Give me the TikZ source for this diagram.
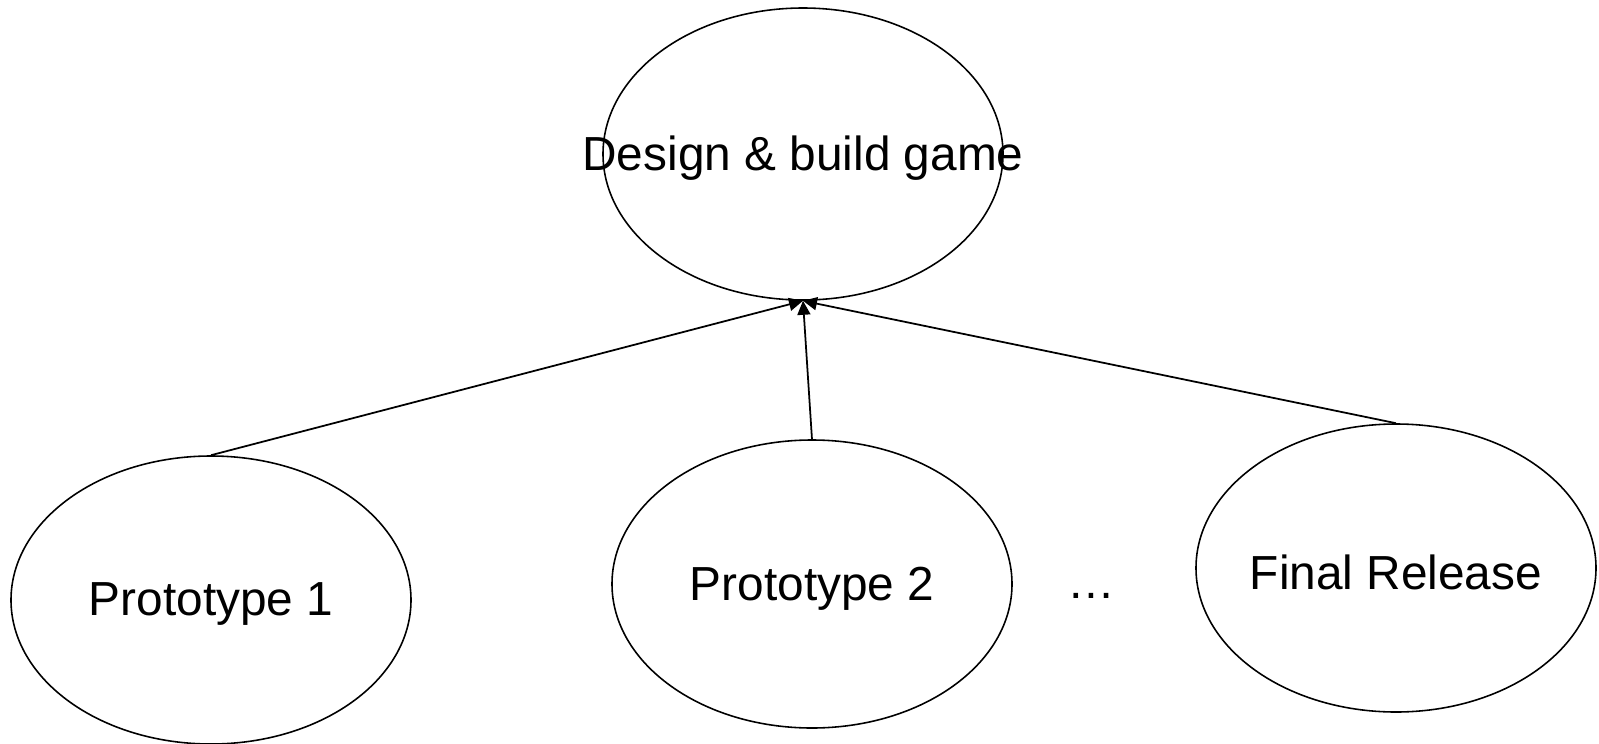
\documentclass[tikz,border=0pt]{standalone}
\usepackage{fontspec}
\setmainfont{Liberation Sans}
\usepackage{tikz}
\usetikzlibrary{shapes,arrows.meta}

\newcommand{\blobtext}[1]{\makebox[0pt]{\raisebox{-2.5pt}[\height][\depth]{#1}}}

\begin{document}
\begin{tikzpicture}[scale=0.2,
  blob/.style={draw=black,line width=0.9pt,ellipse,inner sep=0pt,
    minimum width=8cm,minimum height=5.76cm,font=\fontsize{27.2}{32}\selectfont},
  link/.style={black,line width=1pt,-{Triangle[length=0.28cm,width=0.26cm]}}]
\tikzstyle{every node}+=[inner sep=0pt]
\useasboundingbox (0,0) rectangle (159.9,-74.4);
\node [blob,minimum height=5.84cm] (game) at (80.3,-15.4) {\blobtext{Design \& build game}};
\node [blob] (proto1) at (21.1,-60.0) {\blobtext{Prototype 1}};
\node [blob] (proto2) at (81.2,-58.4) {\blobtext{Prototype 2}};
\node [blob] (final) at (139.6,-56.8) {\blobtext{Final Release}};
\node [anchor=base,font=\fontsize{27.2}{32}\selectfont] (dots) at (109.1,-59.8) {…};
\draw [link] (proto1.north) -- (game.south);
\draw [link] (proto2.north) -- (game.south);
\draw [link] (final.north) -- (game.south);
\end{tikzpicture}
\end{document}
